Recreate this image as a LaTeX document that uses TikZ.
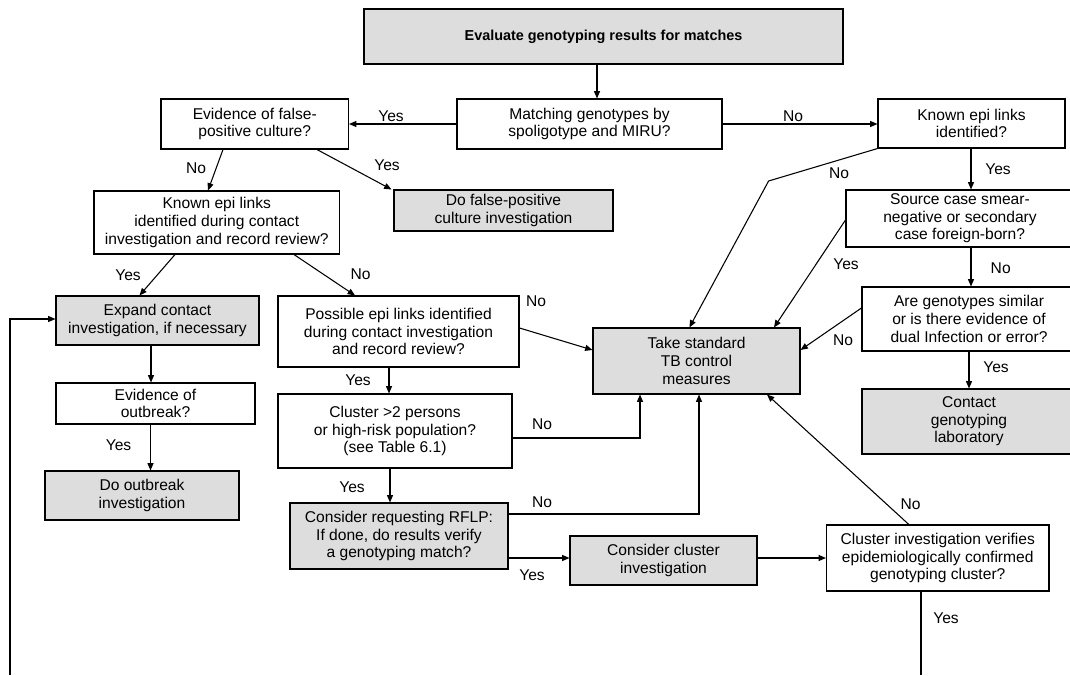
\documentclass[tikz,border=0pt]{standalone}
\usepackage{fontspec}
\setmainfont{Liberation Sans}
\usetikzlibrary{arrows.meta}

\definecolor{boxgray}{RGB}{221,221,221}

\tikzset{
  decision/.style={draw=black, line width=0.8pt, fill=white, align=center, inner sep=0pt,
    font=\fontsize{11.7}{13.2}\selectfont},
  action/.style={decision, fill=boxgray},
  lbl/.style={inner sep=0pt, font=\fontsize{11.7}{13.2}\selectfont},
  link/.style={line width=0.8pt, -{Triangle[length=5.5pt,width=4.5pt]}},
}

\begin{document}
\begin{tikzpicture}[x=0.75pt,y=0.75pt,yscale=-1,xscale=1]
		% Set diagram size to the 1070 x 675 frame
		\useasboundingbox (0,0) rectangle (1070,675);

		% Draw the top box
		\node[action, minimum width=359.25pt, minimum height=41.25pt, font=\fontsize{10.8}{13}\selectfont\bfseries] (eval) at (603.5,36.5) {Evaluate genotyping results for matches};

		% Draw the first row of questions
		\node[decision, minimum width=198.75pt, minimum height=37.5pt] (match) at (589.5,124) {Matching genotypes by\\spoligotype and MIRU?};
		\node[decision, minimum width=140.6pt, minimum height=37.5pt] (falsepos) at (254.75,124) {Evidence of false-\\positive culture?};
		\node[decision, minimum width=140.25pt, minimum height=36.75pt] (knownA) at (971.5,123.5) {Known epi links\\identified?};

		% Draw the second row
		\node[action, minimum width=164.25pt, minimum height=30.75pt] (dofalse) at (503.5,210.5) {Do false-positive\\culture investigation};
		\node[decision, minimum width=184.1pt, minimum height=47.25pt] (knownB) at (216.75,222.5) {Known epi links\\identified during contact\\investigation and record review?};
		\node[decision, minimum width=171pt, minimum height=42.75pt] (source) at (960,218.5) {Source case smear-\\negative or secondary\\case foreign-born?};

		% Draw the middle row
		\node[action, minimum width=152.25pt, minimum height=36.75pt] (expand) at (157.5,320.5) {Expand contact\\investigation, if necessary};
		\node[decision, minimum width=180.75pt, minimum height=53.25pt] (possible) at (398.5,331.5) {Possible epi links identified\\during contact investigation\\and record review?};
		\node[action, minimum width=155.25pt, minimum height=49.5pt] (take) at (696.5,361) {Take standard\\TB control\\measures};
		\node[decision, minimum width=160.5pt, minimum height=48pt] (similar) at (969,319) {Are genotypes similar\\or is there evidence of\\dual Infection or error?};

		% Draw the lower boxes
		\node[decision, minimum width=149.25pt, minimum height=30.75pt] (outbreak) at (155.5,403.5) {Evidence of\\outbreak?};
		\node[decision, minimum width=175.5pt, minimum height=55.5pt] (cluster) at (395,431) {Cluster >2 persons\\or high-risk population?\\(see Table 6.1)};
		\node[action, minimum width=160.5pt, minimum height=48.75pt] (contact) at (969,421.5) {Contact\\genotyping\\laboratory};
		\node[action, minimum width=145.5pt, minimum height=36.75pt] (dooutbreak) at (142,495.5) {Do outbreak\\investigation};
		\node[action, minimum width=163.5pt, minimum height=49.5pt] (rflp) at (399,536) {Consider requesting RFLP:\\If done, do results verify\\a genotyping match?};
		\node[action, minimum width=140.25pt, minimum height=36.75pt] (consider) at (663.5,560.5) {Consider cluster\\investigation};
		\node[decision, minimum width=166.9pt, minimum height=49.5pt] (clusterinv) at (937.75,558) {Cluster investigation verifies\\epidemiologically confirmed\\genotyping cluster?};

		% Free ends and bends of the connectors
		\coordinate (bendA) at (768.6,181);
		\coordinate (loopBottom) at (10,675);
		\coordinate (loopTop) at (10,319);
		\coordinate (yesBottom) at (921,675);

		% Draw the connectors
		\draw[link] (eval.south -| 597,0) -- (match.north -| 597,0);
		\draw[link] (match.west) -- (falsepos.east);
		\draw[link] (match.east) -- (knownA.west |- match.east);
		\draw[link] (falsepos.south -| 223,0) -- (knownB.north -| 208,0);
		\draw[link] (falsepos.south -| 317,0) -- (dofalse.north -| 391.5,0);
		\draw[link] (knownB.south -| 175,0) -- (expand.north -| 139.5,0);
		\draw[link] (knownB.south -| 294,0) -- (possible.north -| 355,0);
		\draw[link] (expand.south -| 151,0) -- (outbreak.north -| 151,0);
		\draw[link] (outbreak.south -| 150.5,0) -- (dooutbreak.north -| 150.5,0);
		\draw[link] (knownA.south -| 971,0) -- (source.north -| 971,0);
		\draw[link] (knownA.south west) -- (bendA) -- (take.north -| 689.4,0);
		\draw[link] (source.west |- 0,220) -- (take.north -| 774,0);
		\draw[link] (source.south -| 971,0) -- (similar.north -| 971,0);
		\draw[link] (similar.west |- 0,308) -- (take.east |- 0,350);
		\draw[link] (similar.south) -- (contact.north);
		\draw[link] (possible.east |- 0,328) -- (take.west |- 0,350);
		\draw[link] (possible.south -| 389,0) -- (cluster.north -| 389,0);
		\draw[link] (cluster.east |- 0,438) -| (take.south -| 640,0);
		\draw[link] (cluster.south -| 390,0) -- (rflp.north -| 390,0);
		\draw[link] (rflp.east |- 0,514) -| (take.south -| 699,0);
		\draw[link] (rflp.east |- 0,558) -- (consider.west |- 0,558);
		\draw[link] (consider.east |- 0,558) -- (clusterinv.west |- 0,558);
		\draw[link] (clusterinv.north -| 908.8,0) -- (take.south -| 767,0);
		\draw[line width=0.8pt] (clusterinv.south -| yesBottom) -- (yesBottom);
		\draw[link] (loopBottom) -- (loopTop) -- (expand.west |- loopTop);

		% Yes and No labels
		\node[lbl] (yesA) at (391,116) {Yes};
		\node[lbl] (noA) at (793,116) {No};
		\node[lbl] (noB) at (196,168) {No};
		\node[lbl] (yesB) at (387,165) {Yes};
		\node[lbl] (yesC) at (128,275) {Yes};
		\node[lbl] (noC) at (360.5,274) {No};
		\node[lbl] (yesD) at (998,169) {Yes};
		\node[lbl] (noD) at (839,173) {No};
		\node[lbl] (yesE) at (846,264) {Yes};
		\node[lbl] (noE) at (1000.7,268) {No};
		\node[lbl] (noF) at (843,340) {No};
		\node[lbl] (yesF) at (996,367) {Yes};
		\node[lbl] (noG) at (536,301) {No};
		\node[lbl] (yesG) at (358,380) {Yes};
		\node[lbl] (noH) at (542,424) {No};
		\node[lbl] (yesH) at (352,487) {Yes};
		\node[lbl] (noI) at (542,502) {No};
		\node[lbl] (yesI) at (532,575) {Yes};
		\node[lbl] (noJ) at (910.5,504) {No};
		\node[lbl] (yesJ) at (946,618) {Yes};
		\node[lbl] (yesK) at (118.5,445) {Yes};
	\end{tikzpicture}
\end{document}
